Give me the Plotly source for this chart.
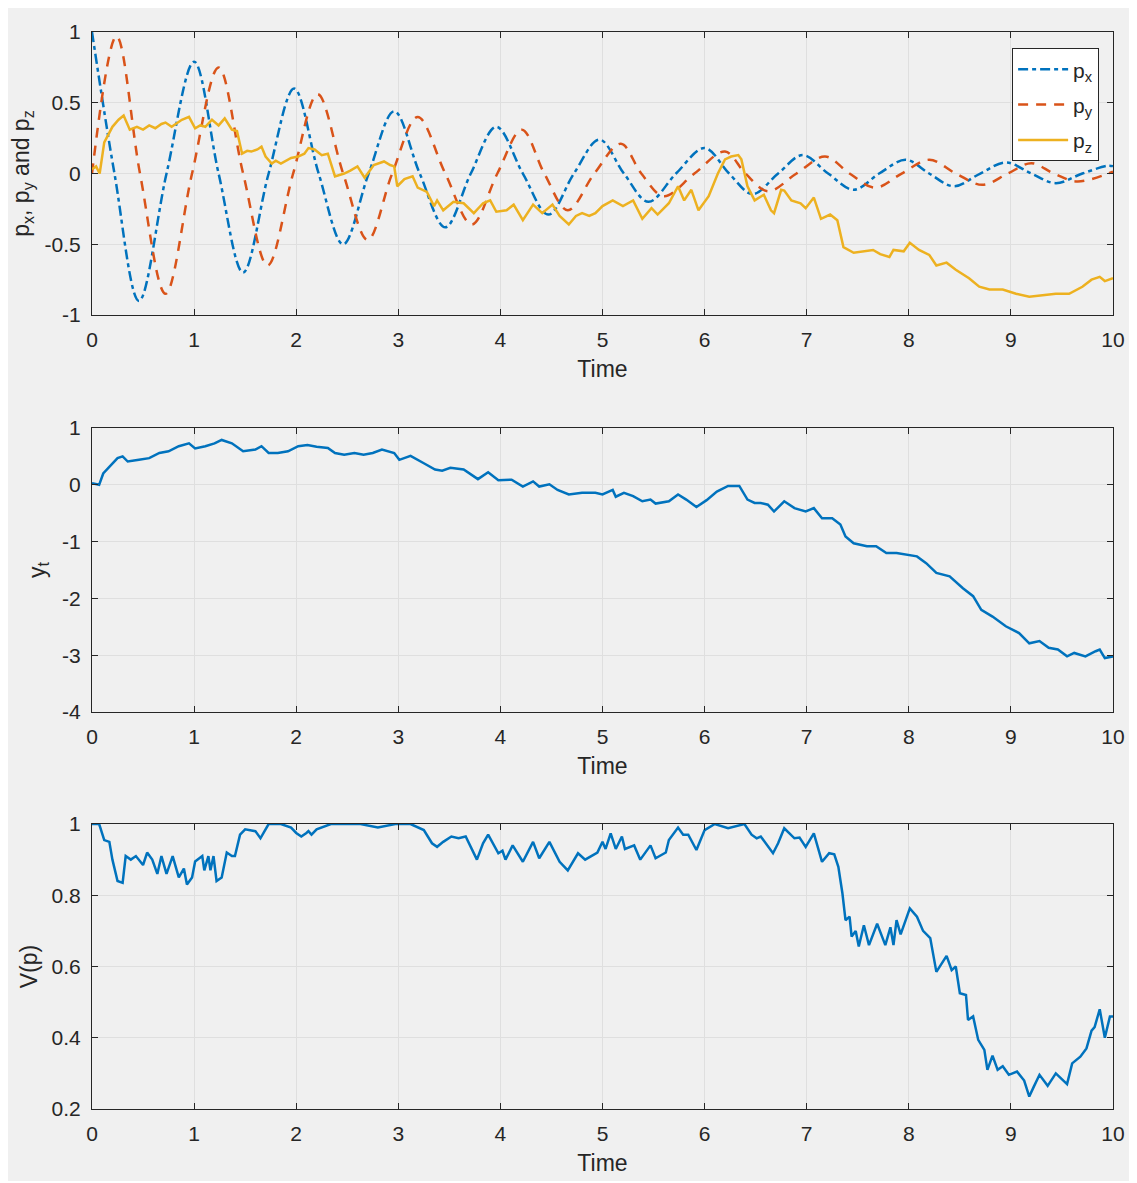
import plotly.graph_objects as go

# ---------------- data ----------------
px_t = [0, 0.22, 0.46, 0.73, 1.0, 1.24, 1.48, 1.73, 1.98, 2.22, 2.46, 2.71, 2.96, 3.21,
        3.46, 3.71, 3.96, 4.22, 4.47, 4.72, 4.97, 5.21, 5.45, 5.72, 6.0, 6.24, 6.47,
        6.72, 6.96, 7.21, 7.46, 7.71, 7.97, 8.2, 8.44, 8.7, 8.95, 9.2, 9.44, 9.7, 9.95, 10.0]
px_v = [1.0, 0, -0.90, 0, 0.79, 0, -0.70, 0, 0.60, 0, -0.50, 0, 0.44, 0,
        -0.38, 0, 0.33, 0, -0.29, 0, 0.24, 0, -0.20, 0, 0.18, 0, -0.145,
        0, 0.13, 0, -0.115, 0, 0.097, 0, -0.09, 0, 0.078, 0, -0.068, 0, 0.055, 0.052]

py_t = [0, 0.24, 0.47, 0.72, 0.98, 1.24, 1.48, 1.72, 1.97, 2.21, 2.46, 2.70, 2.94, 3.19,
        3.46, 3.72, 3.97, 4.21, 4.43, 4.66, 4.92, 5.18, 5.38, 5.6, 5.9, 6.2, 6.4,
        6.62, 6.9, 7.18, 7.42, 7.67, 7.93, 8.2, 8.46, 8.72, 8.97, 9.2, 9.42, 9.65, 10.0]
py_v = [0, 0.97, 0, -0.85, 0, 0.75, 0, -0.65, 0, 0.56, 0, -0.47, 0, 0.40,
        0, -0.36, 0, 0.31, 0, -0.26, 0, 0.21, 0, -0.16, 0, 0.155, 0,
        -0.125, 0, 0.12, 0, -0.10, 0, 0.097, 0, -0.08, 0, 0.073, 0, -0.056, 0.014]

pz_t = [0, 0.04, 0.075, 0.12, 0.2, 0.26, 0.31, 0.37, 0.44, 0.5, 0.56, 0.62, 0.68, 0.72,
        0.78, 0.84, 0.88, 0.95, 1.01, 1.06, 1.11, 1.175, 1.24, 1.3, 1.37, 1.42, 1.47,
        1.52, 1.56, 1.62, 1.66, 1.70, 1.76, 1.8, 1.85, 1.95, 2.02, 2.08, 2.12, 2.18,
        2.25, 2.31, 2.38, 2.47, 2.53, 2.6, 2.67, 2.72, 2.76, 2.86, 2.92, 2.96, 2.99,
        3.06, 3.14, 3.19, 3.28, 3.35, 3.38, 3.44, 3.54, 3.64, 3.74, 3.83, 3.9, 3.96,
        4.06, 4.13, 4.22, 4.32, 4.41, 4.51, 4.58, 4.67, 4.74, 4.8, 4.87, 4.93, 5.0,
        5.1, 5.2, 5.3, 5.39, 5.48, 5.54, 5.65, 5.74, 5.8, 5.87, 5.94, 6.04, 6.13,
        6.2, 6.26, 6.33, 6.36, 6.42, 6.49, 6.58, 6.65, 6.68, 6.75, 6.78, 6.85, 6.94,
        6.99, 7.07, 7.14, 7.23, 7.3, 7.36, 7.46, 7.55, 7.65, 7.72, 7.81, 7.85, 7.95,
        8.01, 8.1, 8.2, 8.27, 8.37, 8.46, 8.59, 8.69, 8.79, 8.92, 9.05, 9.18, 9.31,
        9.44, 9.57, 9.7, 9.79, 9.87, 9.92, 10.0]
pz_v = [0.03, 0.05, 0.0, 0.22, 0.33, 0.38, 0.41, 0.31, 0.33, 0.31, 0.34, 0.32, 0.35, 0.36,
        0.33, 0.36, 0.38, 0.40, 0.32, 0.34, 0.33, 0.38, 0.34, 0.39, 0.31, 0.30, 0.14,
        0.16, 0.155, 0.17, 0.19, 0.12, 0.07, 0.09, 0.07, 0.11, 0.12, 0.14, 0.18, 0.17,
        0.13, 0.14, -0.02, 0.0, 0.02, 0.05, -0.03, 0.02, 0.06, 0.085, 0.06, 0.05, -0.09,
        -0.04, -0.02, -0.10, -0.13, -0.23, -0.19, -0.26, -0.20, -0.21, -0.28, -0.21, -0.19, -0.27,
        -0.26, -0.22, -0.33, -0.22, -0.28, -0.22, -0.30, -0.36, -0.30, -0.28, -0.30, -0.28, -0.23,
        -0.19, -0.23, -0.19, -0.32, -0.245, -0.29, -0.21, -0.09, -0.19, -0.115, -0.26, -0.16, 0.0,
        0.10, 0.12, 0.13, 0.10, -0.09, -0.19, -0.15, -0.26, -0.28, -0.115, -0.12, -0.19, -0.21,
        -0.245, -0.17, -0.32, -0.29, -0.33, -0.52, -0.56, -0.55, -0.54, -0.57, -0.59, -0.54, -0.55,
        -0.49, -0.54, -0.575, -0.65, -0.63, -0.68, -0.74, -0.80, -0.82, -0.82, -0.85, -0.87, -0.86,
        -0.85, -0.85, -0.80, -0.75, -0.73, -0.76, -0.74]

yt_t = [0, 0.07, 0.11, 0.17, 0.25, 0.3, 0.35, 0.46, 0.56, 0.66, 0.75, 0.85, 0.95, 1.01,
        1.11, 1.2, 1.27, 1.37, 1.48, 1.6, 1.66, 1.73, 1.82, 1.92, 2.02, 2.11, 2.2, 2.31,
        2.38, 2.47, 2.57, 2.66, 2.75, 2.84, 2.92, 2.96, 3.01, 3.12, 3.25, 3.36, 3.43, 3.51,
        3.64, 3.78, 3.88, 3.98, 4.11, 4.22, 4.32, 4.38, 4.48, 4.56, 4.67, 4.8, 4.93, 5.0,
        5.1, 5.13, 5.21, 5.3, 5.39, 5.47, 5.52, 5.65, 5.74, 5.82, 5.92, 6.02, 6.12, 6.23,
        6.34, 6.42, 6.49, 6.55, 6.62, 6.68, 6.78, 6.88, 6.99, 7.07, 7.15, 7.25, 7.33, 7.38,
        7.46, 7.59, 7.68, 7.78, 7.88, 7.98, 8.08, 8.17, 8.27, 8.4, 8.53, 8.63, 8.71, 8.82,
        8.95, 9.08, 9.18, 9.28, 9.37, 9.46, 9.55, 9.62, 9.73, 9.83, 9.87, 9.92, 10.0]
yt_v = [0.03, 0.0, 0.2, 0.32, 0.47, 0.5, 0.41, 0.44, 0.47, 0.56, 0.59, 0.68, 0.73, 0.64,
        0.68, 0.73, 0.79, 0.73, 0.59, 0.62, 0.68, 0.56, 0.56, 0.59, 0.68, 0.70, 0.67, 0.65,
        0.56, 0.53, 0.56, 0.53, 0.56, 0.62, 0.58, 0.56, 0.44, 0.51, 0.38, 0.27, 0.25, 0.30,
        0.27, 0.10, 0.22, 0.08, 0.09, -0.03, 0.06, -0.03, 0.01, -0.09, -0.17, -0.14, -0.14, -0.17,
        -0.09, -0.21, -0.14, -0.20, -0.29, -0.26, -0.33, -0.29, -0.17, -0.26, -0.39, -0.27, -0.12, -0.02,
        -0.02, -0.26, -0.32, -0.32, -0.35, -0.47, -0.29, -0.41, -0.47, -0.41, -0.59, -0.59, -0.70, -0.91,
        -1.03, -1.08, -1.08, -1.20, -1.20, -1.23, -1.26, -1.38, -1.55, -1.61, -1.82, -1.96, -2.20, -2.32,
        -2.49, -2.61, -2.79, -2.75, -2.87, -2.90, -3.02, -2.96, -3.02, -2.93, -2.90, -3.05, -3.02]

v_t = [0, 0.07, 0.12, 0.17, 0.2, 0.25, 0.30, 0.33, 0.38, 0.43, 0.50, 0.54, 0.59, 0.64,
       0.68, 0.73, 0.79, 0.85, 0.9, 0.93, 0.98, 1.01, 1.08, 1.1, 1.14, 1.16, 1.19, 1.22,
       1.27, 1.32, 1.37, 1.40, 1.45, 1.5, 1.6, 1.65, 1.69, 1.73, 1.85, 1.95, 2.0, 2.05,
       2.1, 2.12, 2.15, 2.2, 2.34, 2.63, 2.8, 2.97, 3.12, 3.25, 3.33, 3.38, 3.44, 3.52,
       3.59, 3.66, 3.77, 3.83, 3.88, 3.98, 4.02, 4.05, 4.12, 4.22, 4.32, 4.38, 4.48, 4.58,
       4.66, 4.76, 4.83, 4.95, 5.0, 5.03, 5.08, 5.13, 5.19, 5.22, 5.31, 5.37, 5.47, 5.52,
       5.62, 5.65, 5.74, 5.79, 5.84, 5.92, 6.0, 6.1, 6.23, 6.39, 6.46, 6.51, 6.55, 6.6,
       6.67, 6.72, 6.78, 6.88, 6.93, 6.99, 7.07, 7.15, 7.22, 7.27, 7.31, 7.35, 7.38, 7.42,
       7.44, 7.48, 7.51, 7.56, 7.61, 7.69, 7.77, 7.82, 7.85, 7.88, 7.92, 8.01, 8.08, 8.14,
       8.21, 8.27, 8.37, 8.42, 8.46, 8.5, 8.56, 8.58, 8.63, 8.68, 8.74, 8.77, 8.82, 8.87,
       8.92, 8.98, 9.06, 9.13, 9.18, 9.22, 9.28, 9.36, 9.44, 9.55, 9.6, 9.68, 9.74, 9.79,
       9.82, 9.87, 9.92, 9.97, 10.0]
v_v = [1.0, 1.0, 0.955, 0.95, 0.90, 0.84, 0.835, 0.91, 0.90, 0.91, 0.885, 0.92, 0.90, 0.86,
       0.91, 0.86, 0.91, 0.85, 0.875, 0.83, 0.85, 0.895, 0.91, 0.87, 0.91, 0.87, 0.91, 0.84,
       0.85, 0.92, 0.91, 0.91, 0.97, 0.985, 0.98, 0.96, 0.98, 1.0, 1.0, 0.99, 0.975, 0.965,
       0.975, 0.98, 0.97, 0.985, 1.0, 1.0, 0.99, 1.0, 1.0, 0.983, 0.946, 0.936, 0.95, 0.965,
       0.96, 0.965, 0.90, 0.946, 0.97, 0.918, 0.925, 0.90, 0.94, 0.894, 0.95, 0.904, 0.95, 0.894,
       0.87, 0.918, 0.90, 0.92, 0.95, 0.93, 0.974, 0.93, 0.965, 0.93, 0.94, 0.90, 0.94, 0.904,
       0.92, 0.955, 0.99, 0.97, 0.97, 0.927, 0.983, 1.0, 0.988, 1.0, 0.97, 0.96, 0.965, 0.946,
       0.918, 0.946, 0.988, 0.96, 0.962, 0.936, 0.974, 0.894, 0.918, 0.915, 0.88, 0.805, 0.73, 0.74,
       0.684, 0.70, 0.656, 0.716, 0.66, 0.72, 0.66, 0.71, 0.66, 0.73, 0.69, 0.763, 0.74, 0.70,
       0.68, 0.585, 0.63, 0.59, 0.60, 0.525, 0.52, 0.45, 0.46, 0.394, 0.366, 0.31, 0.35, 0.31,
       0.32, 0.296, 0.305, 0.28, 0.235, 0.26, 0.296, 0.265, 0.30, 0.27, 0.328, 0.347, 0.37, 0.42,
       0.43, 0.48, 0.40, 0.46, 0.46]

x_ticks = [0, 1, 2, 3, 4, 5, 6, 7, 8, 9, 10]
y1_ticks = [-1, -0.5, 0, 0.5, 1]
y1_text = ["-1", "-0.5", "0", "0.5", "1"]
y2_ticks = [-4, -3, -2, -1, 0, 1]
y2_text = ["-4", "-3", "-2", "-1", "0", "1"]
y3_ticks = [0.2, 0.4, 0.6, 0.8, 1]
y3_text = ["0.2", "0.4", "0.6", "0.8", "1"]

# ---------------- styling ----------------
BLUE = "#0072BD"
ORANGE = "#D95319"
YELLOW = "#EDB120"
AX = "#262626"
GRID = "#dfdfdf"
FONT = "Liberation Sans, Arial, sans-serif"
LW = 2.5

fig = go.Figure()
fig.add_trace(go.Scatter(x=px_t, y=px_v, mode="lines", name="p<sub>x</sub>",
                         line=dict(color=BLUE, width=LW, dash="10px,4px,4px,4px", shape="spline"),
                         xaxis="x", yaxis="y", legendgroup="a"))
fig.add_trace(go.Scatter(x=py_t, y=py_v, mode="lines", name="p<sub>y</sub>",
                         line=dict(color=ORANGE, width=LW, dash="10px,8px", shape="spline"),
                         xaxis="x", yaxis="y", legendgroup="b"))
fig.add_trace(go.Scatter(x=pz_t, y=pz_v, mode="lines", name="p<sub>z</sub>",
                         line=dict(color=YELLOW, width=LW),
                         xaxis="x", yaxis="y", legendgroup="c"))
fig.add_trace(go.Scatter(x=yt_t, y=yt_v, mode="lines", showlegend=False,
                         line=dict(color=BLUE, width=LW), xaxis="x2", yaxis="y2"))
fig.add_trace(go.Scatter(x=v_t, y=v_v, mode="lines", showlegend=False,
                         line=dict(color=BLUE, width=LW), xaxis="x3", yaxis="y3"))

tickfont = dict(family=FONT, size=21, color=AX)
titlefont = dict(family=FONT, size=23, color=AX)

def xax(anchor):
    return dict(domain=[0, 1], anchor=anchor, range=[0, 10], tickvals=x_ticks,
                showline=True, linecolor=AX, linewidth=1, mirror="ticks",
                ticks="inside", ticklen=6, tickcolor=AX, showgrid=True, gridcolor=GRID,
                zeroline=False, tickfont=tickfont, ticklabelstandoff=6,
                title=dict(text="Time", font=titlefont, standoff=10))

def yax(anchor, dom, rng, tv, tt, title, standoff):
    return dict(domain=dom, anchor=anchor, range=rng, tickvals=tv, ticktext=tt,
                showline=True, linecolor=AX, linewidth=1, mirror="ticks",
                ticks="inside", ticklen=6, tickcolor=AX, showgrid=True, gridcolor=GRID,
                zeroline=False, tickfont=tickfont, ticklabelstandoff=6,
                title=dict(text=title, font=titlefont, standoff=standoff))

fig.update_layout(
    width=1129, height=1175,
    margin=dict(l=84, r=16, t=24, b=74),
    paper_bgcolor="white", plot_bgcolor="white",
    font=dict(family=FONT, color=AX),
    xaxis=xax("y"), xaxis2=xax("y2"), xaxis3=xax("y3"),
    yaxis=yax("x", [0.7372, 1.0], [-1, 1], y1_ticks, y1_text,
              "p<sub>x</sub>, p<sub>y</sub> and p<sub>z</sub>", 8),
    yaxis2=yax("x2", [0.3686, 0.6323], [-4, 1], y2_ticks, y2_text, "y<sub>t</sub>", 10),
    yaxis3=yax("x3", [0.0, 0.2646], [0.2, 1], y3_ticks, y3_text, "V(p)", 7),
    legend=dict(x=0.9864, y=0.985, xanchor="right", yanchor="top",
                bgcolor="white", bordercolor=AX, borderwidth=1, itemwidth=50,
                font=dict(family=FONT, size=21, color=AX), tracegroupgap=5),
    shapes=[dict(type="rect", xref="paper", yref="paper", x0=-0.09, x1=1.03,
                 y0=-0.0669, y1=1.03, fillcolor="#f0f0f0", line=dict(width=0), layer="below")],
    showlegend=True,
)

fig.write_html("out.html")
